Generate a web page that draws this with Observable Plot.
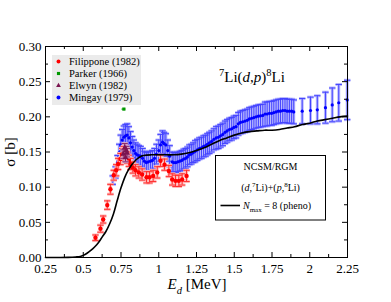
<!DOCTYPE html>
<html><head><meta charset="utf-8">
<script src="https://cdn.jsdelivr.net/npm/d3@7"></script>
<script src="https://cdn.jsdelivr.net/npm/@observablehq/plot@0.6"></script>
<style>body{margin:0;background:#fff} #chart{width:391px;height:302px}</style>
</head><body><div id="chart"></div>
<script>
// ---- data ----
const filipponeE = [0.581,0.614,0.632,0.659,0.680,0.702,0.718,0.731,0.747,0.758,0.769,0.780,0.791,0.802,0.813,0.828,0.846,0.868,0.890,0.919,0.939,0.963,0.990,1.012,1.038,1.067,1.089,1.111,1.133,1.155,1.184];
const filipponeS = [0.028,0.041,0.054,0.0745,0.097,0.117,0.124,0.133,0.140,0.147,0.150,0.145,0.142,0.1375,0.133,0.128,0.124,0.121,0.118,0.114,0.114,0.116,0.121,0.1375,0.132,0.123,0.111,0.109,0.109,0.111,0.116];
const filipponeErr = [0.004,0.005,0.005,0.006,0.007,0.007,0.008,0.008,0.008,0.008,0.008,0.008,0.008,0.008,0.008,0.008,0.008,0.008,0.008,0.008,0.008,0.008,0.008,0.008,0.008,0.008,0.008,0.008,0.008,0.008,0.008];

const parkerE = [0.769];
const parkerS = [0.211];
const parkerXErr = [0.013];

const elwynE = [0.765,0.775,0.780,0.790,0.785];
const elwynS = [0.147,0.156,0.142,0.149,0.152];
const elwynErr = [0.006,0.006,0.006,0.006,0.006];

const mingayE = [0.695,0.714,0.727,0.738,0.748,0.758,0.769,0.780,0.791,0.802,0.813,0.824,0.835,0.846,0.857,0.868,0.880,0.893,0.905,0.918,0.930,0.945,0.958,0.972,0.985,1.000,1.012,1.025,1.035,1.047,1.060,1.072,1.089,1.100,1.113,1.126,1.139,1.152,1.165,1.178,1.190,1.203,1.216,1.228,1.241,1.255,1.269,1.283,1.297,1.310,1.322,1.335,1.350,1.365,1.380,1.395,1.409,1.424,1.439,1.453,1.468,1.483,1.497,1.512,1.527,1.541,1.556,1.571,1.586,1.600,1.615,1.630,1.645,1.660,1.674,1.689,1.704,1.718,1.733,1.748,1.762,1.777,1.792,1.806,1.821,1.836,1.850,1.865,1.880,1.894,1.950,2.005,2.050,2.104,2.149,2.192,2.248];
const mingayS = [0.110,0.121,0.135,0.149,0.160,0.167,0.171,0.173,0.174,0.170,0.163,0.157,0.152,0.148,0.146,0.145,0.144,0.141,0.137,0.135,0.136,0.137,0.138,0.141,0.147,0.152,0.160,0.164,0.162,0.160,0.152,0.144,0.136,0.135,0.135,0.136,0.137,0.138,0.140,0.141,0.143,0.146,0.147,0.149,0.151,0.153,0.155,0.156,0.158,0.159,0.161,0.163,0.165,0.168,0.170,0.171,0.173,0.175,0.178,0.180,0.182,0.183,0.185,0.186,0.190,0.192,0.193,0.194,0.195,0.197,0.198,0.199,0.200,0.201,0.2015,0.202,0.204,0.204,0.205,0.205,0.206,0.207,0.208,0.208,0.209,0.209,0.208,0.208,0.208,0.207,0.208,0.209,0.210,0.213,0.217,0.220,0.224];
const mingayErr = [0.006,0.008,0.010,0.012,0.014,0.015,0.016,0.016,0.016,0.016,0.016,0.015,0.015,0.015,0.015,0.014,0.014,0.014,0.014,0.014,0.014,0.014,0.014,0.014,0.014,0.015,0.015,0.016,0.016,0.016,0.015,0.015,0.014,0.014,0.014,0.014,0.014,0.014,0.014,0.014,0.014,0.014,0.014,0.014,0.015,0.015,0.015,0.015,0.015,0.015,0.015,0.015,0.015,0.015,0.016,0.016,0.016,0.016,0.016,0.016,0.016,0.016,0.016,0.016,0.016,0.016,0.016,0.016,0.016,0.016,0.016,0.016,0.016,0.016,0.016,0.016,0.017,0.017,0.017,0.017,0.017,0.017,0.017,0.017,0.017,0.017,0.017,0.017,0.017,0.017,0.018,0.019,0.020,0.022,0.024,0.026,0.028];

const theoryE = [0.25,0.30,0.35,0.40,0.45,0.48,0.50,0.525,0.55,0.575,0.60,0.625,0.65,0.675,0.70,0.725,0.75,0.775,0.80,0.825,0.85,0.875,0.90,0.95,1.00,1.05,1.10,1.15,1.20,1.25,1.30,1.35,1.40,1.45,1.50,1.55,1.60,1.65,1.70,1.75,1.80,1.85,1.90,1.95,2.00,2.05,2.10,2.15,2.20,2.25];
const theoryS = [0,0,0,0.0002,0.0008,0.0015,0.003,0.006,0.010,0.015,0.021,0.029,0.037,0.048,0.062,0.081,0.099,0.114,0.125,0.133,0.139,0.143,0.145,0.146,0.146,0.146,0.146,0.147,0.149,0.152,0.156,0.161,0.166,0.170,0.174,0.177,0.179,0.180,0.181,0.181,0.182,0.184,0.186,0.189,0.191,0.194,0.196,0.198,0.200,0.201];

const xMajor = [0.25,0.5,0.75,1,1.25,1.5,1.75,2,2.25];
const xMinor = [0.375,0.625,0.875,1.125,1.375,1.625,1.875,2.125];
const yMajor = [0,0.05,0.10,0.15,0.20,0.25,0.30];
const yMinor = [0.025,0.075,0.125,0.175,0.225,0.275];

// ---- build ----
const fil = filipponeE.map((E,i)=>({E, s:filipponeS[i], e:filipponeErr[i]}));
const park = parkerE.map((E,i)=>({E, s:parkerS[i], ex:parkerXErr[i]}));
const elw = elwynE.map((E,i)=>({E, s:elwynS[i], e:elwynErr[i]}));
const ming = mingayE.map((E,i)=>({E, s:mingayS[i], e:mingayErr[i]}));
const theory = theoryE.map((E,i)=>({E, s:theoryS[i]}));

const cap = {draw(ctx, size){const r=Math.sqrt(size/Math.PI); ctx.moveTo(-r,0); ctx.lineTo(r,0);}};

const W=391, H=302, mL=45, mR=44, mT=46, mB=45;
const fw = W-mL-mR, fh = H-mT-mB;

function errMarks(data, halo, col, capR){
  return [
    Plot.ruleX(data,{x:"E", y1:d=>d.s-d.e, y2:d=>d.s+d.e, stroke:halo, strokeWidth:3}),
    Plot.dot(data,{x:"E", y:d=>d.s+d.e, symbol:cap, r:capR, stroke:halo, strokeWidth:3}),
    Plot.dot(data,{x:"E", y:d=>d.s-d.e, symbol:cap, r:capR, stroke:halo, strokeWidth:3}),
    Plot.ruleX(data,{x:"E", y1:d=>d.s-d.e, y2:d=>d.s+d.e, stroke:col, strokeWidth:1}),
    Plot.dot(data,{x:"E", y:d=>d.s+d.e, symbol:cap, r:capR, stroke:col, strokeWidth:1}),
    Plot.dot(data,{x:"E", y:d=>d.s-d.e, symbol:cap, r:capR, stroke:col, strokeWidth:1})
  ];
}

const plot = Plot.plot({
  width:W, height:H, marginLeft:mL, marginRight:mR, marginTop:mT, marginBottom:mB,
  x:{domain:[0.25,2.25]}, y:{domain:[0,0.30]},
  style:{fontFamily:"'Liberation Serif', serif", fontSize:"13px", background:"#fff", color:"#000", overflow:"visible"},
  marks:[
    ...errMarks(ming, "#b8b8ff", "#4444ff", 3.2),
    Plot.dot(ming,{x:"E", y:"s", r:1.6, fill:"#0000ff"}),
    ...errMarks(fil, "#ffb8b8", "#ff3030", 3.2),
    Plot.dot(fil,{x:"E", y:"s", r:2.2, fill:"#ff0000"}),
    ...errMarks(elw, "#d8a8c8", "#8b2a6a", 3),
    Plot.dot(elw,{x:"E", y:"s", symbol:"triangle", r:2.2, fill:"#7a1450"}),
    Plot.ruleY(park,{y:"s", x1:d=>d.E-d.ex, x2:d=>d.E+d.ex, stroke:"#22aa22", strokeWidth:1}),
    Plot.dot(park,{x:"E", y:"s", symbol:"square", r:1.8, fill:"#009900"}),
    Plot.line(theory,{x:"E", y:"s", stroke:"#000", strokeWidth:1.6, curve:"catmull-rom"}),
    Plot.frame({stroke:"#000", strokeWidth:1}),
    Plot.tickX(xMajor,{x:d=>d, insetTop:fh-5, stroke:"#000"}),
    Plot.tickX(xMajor,{x:d=>d, insetBottom:fh-5, stroke:"#000"}),
    Plot.tickX(xMinor,{x:d=>d, insetTop:fh-3, stroke:"#000"}),
    Plot.tickX(xMinor,{x:d=>d, insetBottom:fh-3, stroke:"#000"}),
    Plot.tickY(yMajor,{y:d=>d, insetRight:fw-5, stroke:"#000"}),
    Plot.tickY(yMajor,{y:d=>d, insetLeft:fw-5, stroke:"#000"}),
    Plot.tickY(yMinor,{y:d=>d, insetRight:fw-3, stroke:"#000"}),
    Plot.tickY(yMinor,{y:d=>d, insetLeft:fw-3, stroke:"#000"}),
    Plot.axisX({ticks:xMajor, tickSize:0, tickPadding:6, tickFormat:d=>String(d), label:null, fontSize:13}),
    Plot.axisY({ticks:yMajor, tickSize:0, tickPadding:4, tickFormat:d3.format(".2f"), label:null, fontSize:13})
  ]
});
document.getElementById("chart").appendChild(plot);

// ---- annotations ----
const svg = d3.select(plot);
const g = svg.append("g").attr("font-family","'Liberation Serif', serif").attr("fill","#000").attr("text-anchor","start");

function rich(x, y, parts, size, anchor){
  const t = g.append("text").attr("x",x).attr("y",y).attr("font-size",size).attr("text-anchor",anchor||"start");
  parts.forEach(p=>{
    const ts = t.append("tspan").text(p.t);
    if(p.i) ts.attr("font-style","italic");
    if(p.sup){ ts.attr("font-size",size*0.7).attr("dy",-size*0.4); }
    if(p.sub){ ts.attr("font-size",size*0.7).attr("dy",size*0.3); }
    if(p.reset) ts.attr("dy",p.reset*size);
  });
  return t;
}

// y label
g.append("text").attr("transform","translate(15,152) rotate(-90)").attr("text-anchor","middle").attr("font-size",15).text("σ [b]");
// x label
rich(197, 289, [{t:"E",i:true},{t:"d",i:true,sub:true},{t:" [MeV]",reset:-0.3}], 15, "middle");

// title
rich(252, 82, [{t:"7",sup:true},{t:"Li(",reset:0.4},{t:"d",i:true},{t:","},{t:"p",i:true},{t:")"},{t:"8",sup:true},{t:"Li",reset:0.4}], 15, "middle");

// left legend
g.append("rect").attr("x",52).attr("y",55).attr("width",89).attr("height",50).attr("fill","#ebebeb");
const legItems = [
  {label:"Filippone (1982)", y:61.5, kind:"circle", col:"#ff0000"},
  {label:"Parker (1966)", y:73.5, kind:"square", col:"#009900"},
  {label:"Elwyn (1982)", y:85.5, kind:"triangle", col:"#7a1450"},
  {label:"Mingay (1979)", y:97.5, kind:"circle", col:"#0000ff"}
];
legItems.forEach(it=>{
  const sym = it.kind==="circle"?d3.symbolCircle: it.kind==="square"?d3.symbolSquare: d3.symbolTriangle;
  g.append("path").attr("d", d3.symbol(sym, it.kind==="circle"?12:10)()).attr("transform",`translate(58.5,${it.y})`).attr("fill",it.col);
  g.append("text").attr("x",69).attr("y",it.y+3.5).attr("font-size",10.5).attr("text-anchor","start").text(it.label);
});

// right legend
g.append("rect").attr("x",215.5).attr("y",155.5).attr("width",110).attr("height",64.5).attr("fill","#fff").attr("stroke","#000").attr("stroke-width",1);
g.append("text").attr("x",270.5).attr("y",169.5).attr("text-anchor","middle").attr("font-size",10).text("NCSM/RGM");
rich(270.5, 191, [{t:"("},{t:"d",i:true},{t:","},{t:"7",sup:true},{t:"Li)+(",reset:0.4},{t:"p",i:true},{t:","},{t:"8",sup:true},{t:"Li)",reset:0.4}], 10, "middle");
g.append("line").attr("x1",220.5).attr("x2",240).attr("y1",205.5).attr("y2",205.5).attr("stroke","#000").attr("stroke-width",1.6);
rich(243, 209, [{t:"N",i:true},{t:"max",sub:true},{t:" = 8 (pheno)",reset:-0.3}], 10, "start");
</script></body></html>
